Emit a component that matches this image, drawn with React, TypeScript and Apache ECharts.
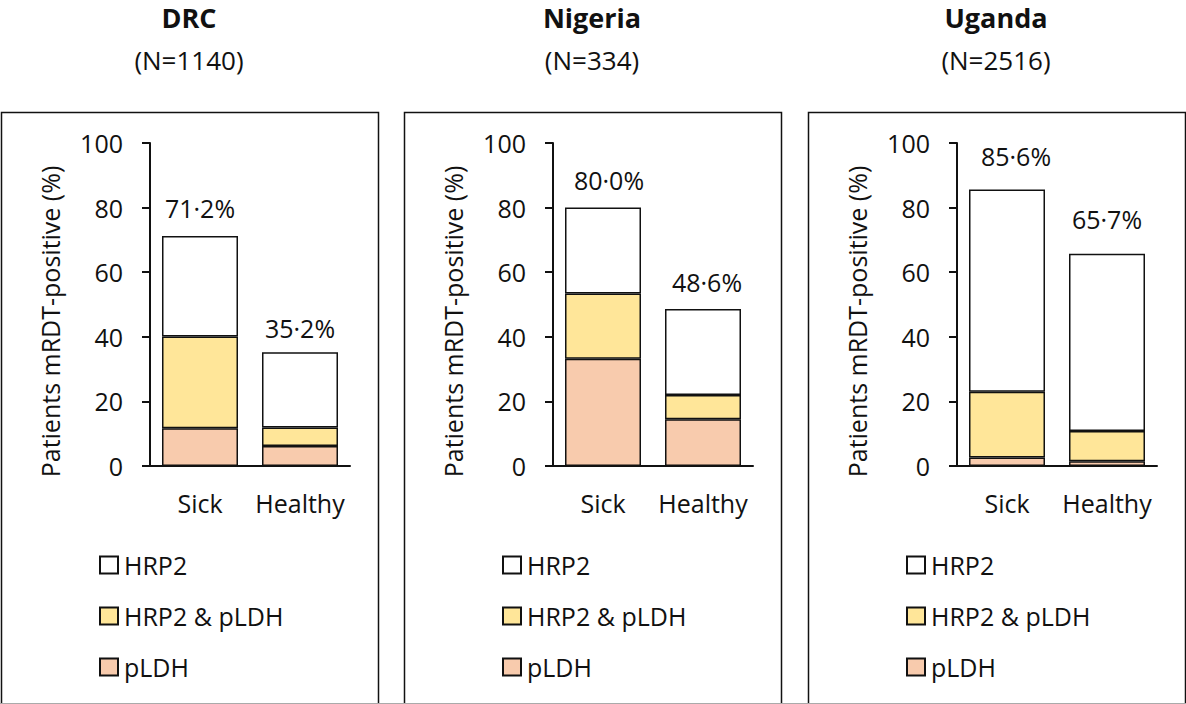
import React, { useEffect, useRef } from "react";
import * as echarts from "echarts";

// ---- data ----
const categories = ["Sick", "Healthy"];
const countries = ["DRC", "Nigeria", "Uganda"];
const sampleSizes = ["(N=1140)", "(N=334)", "(N=2516)"];
const seriesNames = ["HRP2", "HRP2 & pLDH", "pLDH"];

const drcPLDH = [11.7, 6.2];
const drcBoth = [28.4, 5.7];
const drcHRP2 = [31.1, 23.3];
const drcTotals = ["71·2%", "35·2%"];

const nigeriaPLDH = [33.2, 14.5];
const nigeriaBoth = [20.2, 7.5];
const nigeriaHRP2 = [26.6, 26.6];
const nigeriaTotals = ["80·0%", "48·6%"];

const ugandaPLDH = [2.6, 1.5];
const ugandaBoth = [20.4, 9.3];
const ugandaHRP2 = [62.6, 54.9];
const ugandaTotals = ["85·6%", "65·7%"];

const yMin = 0;
const yMax = 100;
const yInterval = 20;

const panelData = [
  { pldh: drcPLDH, both: drcBoth, hrp2: drcHRP2, totals: drcTotals },
  { pldh: nigeriaPLDH, both: nigeriaBoth, hrp2: nigeriaHRP2, totals: nigeriaTotals },
  { pldh: ugandaPLDH, both: ugandaBoth, hrp2: ugandaHRP2, totals: ugandaTotals },
];

// ---- layout / style ----
const FONT = "'Open Sans', sans-serif";
const panelDx = [0, 403, 807];
const labelDistance = [
  [16, 12],
  [15, 15],
  [21, 22],
];
const labelOffsetX = [
  [0, 0],
  [6, 4],
  [9, 0],
];
const colors = { hrp2: "#FFFFFF", both: "#FFE699", pldh: "#F8CBAD" };

export default function App() {
  const ref = useRef<HTMLDivElement>(null);

  useEffect(() => {
    if (!ref.current) return;
    const chart = echarts.init(ref.current, null, { renderer: "svg" });

    const grid: any[] = [];
    const xAxis: any[] = [];
    const yAxis: any[] = [];
    const series: any[] = [];
    const legend: any[] = [];
    const graphic: any[] = [];

    panelDx.forEach((dx, i) => {
      const d = panelData[i];
      grid.push({ left: 150 + dx, top: 143, width: 200, height: 323, containLabel: false });
      xAxis.push({
        type: "category",
        gridIndex: i,
        data: categories,
        axisLine: { lineStyle: { color: "#111", width: 2 } },
        axisTick: { show: false },
        axisLabel: { color: "#111", fontSize: 25, fontFamily: FONT, margin: 24, interval: 0 },
      });
      yAxis.push({
        type: "value",
        gridIndex: i,
        min: yMin,
        max: yMax,
        interval: yInterval,
        name: "Patients mRDT-positive (%)",
        nameLocation: "middle",
        nameGap: 88,
        nameTextStyle: { color: "#111", fontSize: 25, fontFamily: FONT, padding: [0, 34, 0, 0] },
        axisLine: { show: true, lineStyle: { color: "#111", width: 2 } },
        axisTick: { show: true, length: 8, lineStyle: { color: "#111", width: 2 } },
        splitLine: { show: false },
        axisLabel: { color: "#111", fontSize: 25, fontFamily: FONT, margin: 27 },
      });
      const common = {
        type: "bar",
        xAxisIndex: i,
        yAxisIndex: i,
        stack: "s" + i,
        barWidth: 76,
        itemStyle: { borderColor: "#111", borderWidth: 1.5 },
      };
      series.push({ ...common, name: "pLDH", data: d.pldh, itemStyle: { ...common.itemStyle, color: colors.pldh } });
      series.push({ ...common, name: "HRP2 & pLDH", data: d.both, itemStyle: { ...common.itemStyle, color: colors.both } });
      series.push({
        ...common,
        name: "HRP2",
        itemStyle: { ...common.itemStyle, color: colors.hrp2 },
        data: d.hrp2.map((v, j) => ({
          value: v,
          label: {
            show: true,
            position: "top",
            distance: labelDistance[i][j],
            offset: [labelOffsetX[i][j], 0],
            formatter: () => d.totals[j],
            color: "#111",
            fontSize: 25,
            fontFamily: FONT,
          },
        })),
      });
      legend.push({
        orient: "vertical",
        left: 99 + dx,
        top: 552,
        padding: 0,
        itemWidth: 18,
        itemHeight: 17,
        itemGap: 25,
        icon: "rect",
        selectedMode: false,
        data: seriesNames,
        itemStyle: { borderColor: "#111", borderWidth: 2 },
        textStyle: { color: "#111", fontSize: 25, fontFamily: FONT, lineHeight: 26, padding: [0, 0, 0, 1] },
      });
      graphic.push({
        type: "rect",
        shape: { x: 1.5 + dx, y: 112.5, width: 377, height: 640 },
        style: { fill: "none", stroke: "#111", lineWidth: 1.5 },
        z: -10,
      });
      graphic.push({
        type: "text",
        x: 189 + dx,
        y: 17,
        style: {
          text: countries[i],
          fontSize: 27,
          fontWeight: "bold",
          fontFamily: FONT,
          fill: "#111",
          align: "center",
          verticalAlign: "middle",
        },
      });
      graphic.push({
        type: "text",
        x: 189 + dx,
        y: 60,
        style: {
          text: sampleSizes[i],
          fontSize: 26,
          fontFamily: FONT,
          fill: "#111",
          align: "center",
          verticalAlign: "middle",
        },
      });
    });

    graphic.push({
      type: "line",
      shape: { x1: 0, y1: 703.5, x2: 1186, y2: 703.5 },
      style: { stroke: "#aaa", lineWidth: 1 },
    });

    chart.setOption({
      animation: false,
      backgroundColor: "#fff",
      textStyle: { fontFamily: FONT },
      grid,
      xAxis,
      yAxis,
      series,
      legend,
      graphic,
    });

    return () => chart.dispose();
  }, []);

  return (
    <div
      ref={ref}
      style={{ position: "absolute", left: 0, top: 0, width: 1186, height: 704 }}
    />
  );
}
